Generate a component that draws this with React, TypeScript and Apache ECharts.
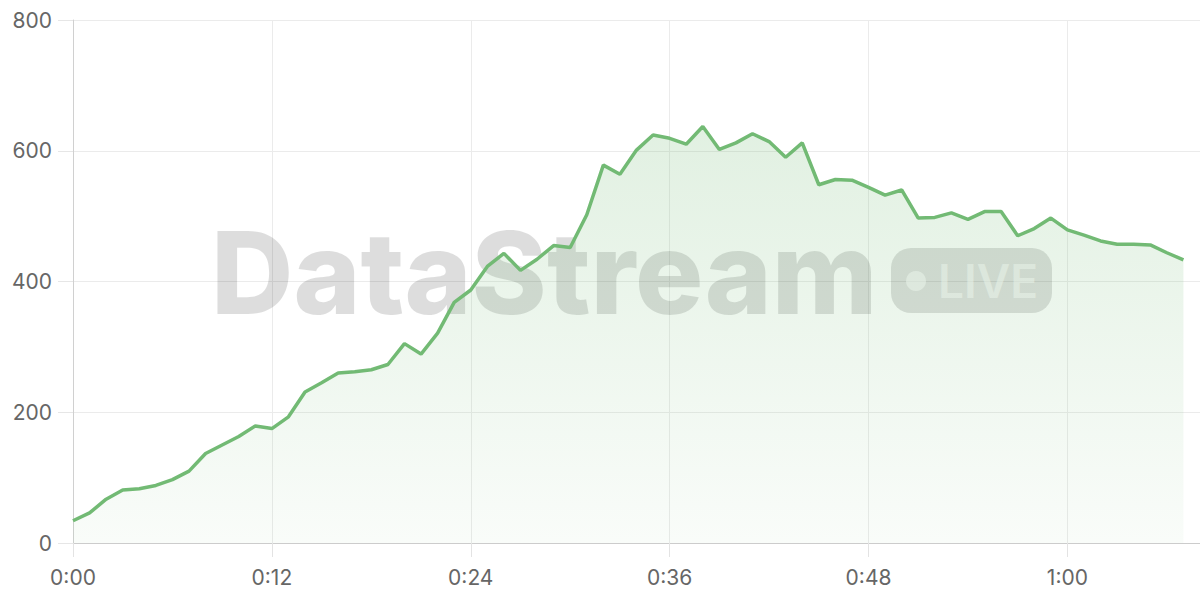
import React, { useEffect, useRef } from "react";
import * as echarts from "echarts";

const minutes: number[] = [
  0, 1, 2, 3, 4, 5, 6, 7, 8, 9, 10, 11, 12, 13, 14, 15, 16, 17, 18, 19, 20, 21, 22, 23,
  24, 25, 26, 27, 28, 29, 30, 31, 32, 33, 34, 35, 36, 37, 38, 39, 40, 41, 42, 43, 44, 45,
  46, 47, 48, 49, 50, 51, 52, 53, 54, 55, 56, 57, 58, 59, 60, 61, 62, 63, 64, 65, 66, 67,
];

const viewers: number[] = [
  34, 46, 67, 81, 83, 88, 97, 110, 137, 150, 163, 179, 175, 193, 231, 245, 260, 262, 265, 273,
  305, 289, 321, 368, 387, 423, 443, 417, 434, 455, 452, 502, 578, 564, 601, 624, 619, 610,
  637, 602, 612, 626, 614, 590, 612, 548, 556, 555, 544, 532, 540, 497, 498, 505, 495, 507,
  507, 470, 481, 497, 479, 471, 462, 457, 457, 456, 444, 433,
];

const yTicks: number[] = [0, 200, 400, 600, 800];
const xTickStep = 12;
const watermarkTitle = "DataStream";
const watermarkBadge = "LIVE";

const fmtTime = (m: number) => `${Math.floor(m / 60)}:${String(m % 60).padStart(2, "0")}`;

export default function App() {
  const ref = useRef<HTMLDivElement>(null);

  useEffect(() => {
    if (!ref.current) return;
    const chart = echarts.init(ref.current, undefined, { renderer: "svg" });
    const labelFont = "Inter, 'DejaVu Sans', sans-serif";
    chart.setOption({
      animation: false,
      backgroundColor: "#ffffff",
      grid: { left: 73, right: 0, top: 20, bottom: 57, containLabel: false },
      xAxis: {
        type: "value",
        min: 0,
        max: 68,
        interval: xTickStep,
        axisLine: { show: true, lineStyle: { color: "#cccccc", width: 1 } },
        axisTick: { show: true, length: 14, lineStyle: { color: "#e3e3e3" } },
        splitLine: { show: true, lineStyle: { color: "#ebebeb", width: 1 } },
        axisLabel: {
          margin: 24,
          fontSize: 21,
          color: "#666666",
          fontFamily: labelFont,
          showMaxLabel: false,
          formatter: (v: number) => (v % xTickStep === 0 ? fmtTime(v) : ""),
        },
      },
      yAxis: {
        type: "value",
        min: yTicks[0],
        max: yTicks[yTicks.length - 1],
        interval: yTicks[1] - yTicks[0],
        axisLine: { show: true, lineStyle: { color: "#d0d0d0", width: 1 } },
        axisTick: { show: true, length: 15, lineStyle: { color: "#e6e6e6" } },
        splitLine: { show: true, lineStyle: { color: "#ebebeb", width: 1 } },
        axisLabel: {
          margin: 21,
          fontSize: 21,
          color: "#666666",
          fontFamily: labelFont,
        },
      },
      graphic: [
        {
          type: "text",
          left: 211,
          top: 215,
          z: 1,
          silent: true,
          style: {
            text: watermarkTitle,
            font: "800 114px Inter, 'Liberation Sans', sans-serif",
            fill: "rgba(0,0,0,0.135)",
          },
        },
        {
          type: "rect",
          z: 1,
          silent: true,
          shape: { x: 891, y: 248, width: 161, height: 65, r: 20 },
          style: { fill: "rgba(0,0,0,0.13)" },
        },
        {
          type: "circle",
          z: 1,
          silent: true,
          shape: { cx: 916, cy: 281, r: 10 },
          style: { fill: "rgba(255,255,255,0.55)" },
        },
        {
          type: "text",
          z: 1,
          silent: true,
          x: 938,
          y: 281,
          style: {
            text: watermarkBadge,
            font: "600 46px Inter, 'Liberation Sans', sans-serif",
            fill: "rgba(255,255,255,0.55)",
            verticalAlign: "middle",
          },
        },
      ],
      series: [
        {
          type: "line",
          data: minutes.map((m, i) => [m, viewers[i]]),
          showSymbol: false,
          symbol: "none",
          z: 3,
          lineStyle: { color: "#72ba74", width: 3.5 },
          areaStyle: {
            color: new echarts.graphic.LinearGradient(0, 0, 0, 1, [
              { offset: 0, color: "rgba(114,186,116,0.3)" },
              { offset: 1, color: "rgba(114,186,116,0.06)" },
            ]),
          },
        },
      ],
    });
    return () => chart.dispose();
  }, []);

  return (
    <div
      ref={ref}
      style={{ position: "fixed", left: 0, top: 0, width: 1200, height: 600 }}
    />
  );
}
